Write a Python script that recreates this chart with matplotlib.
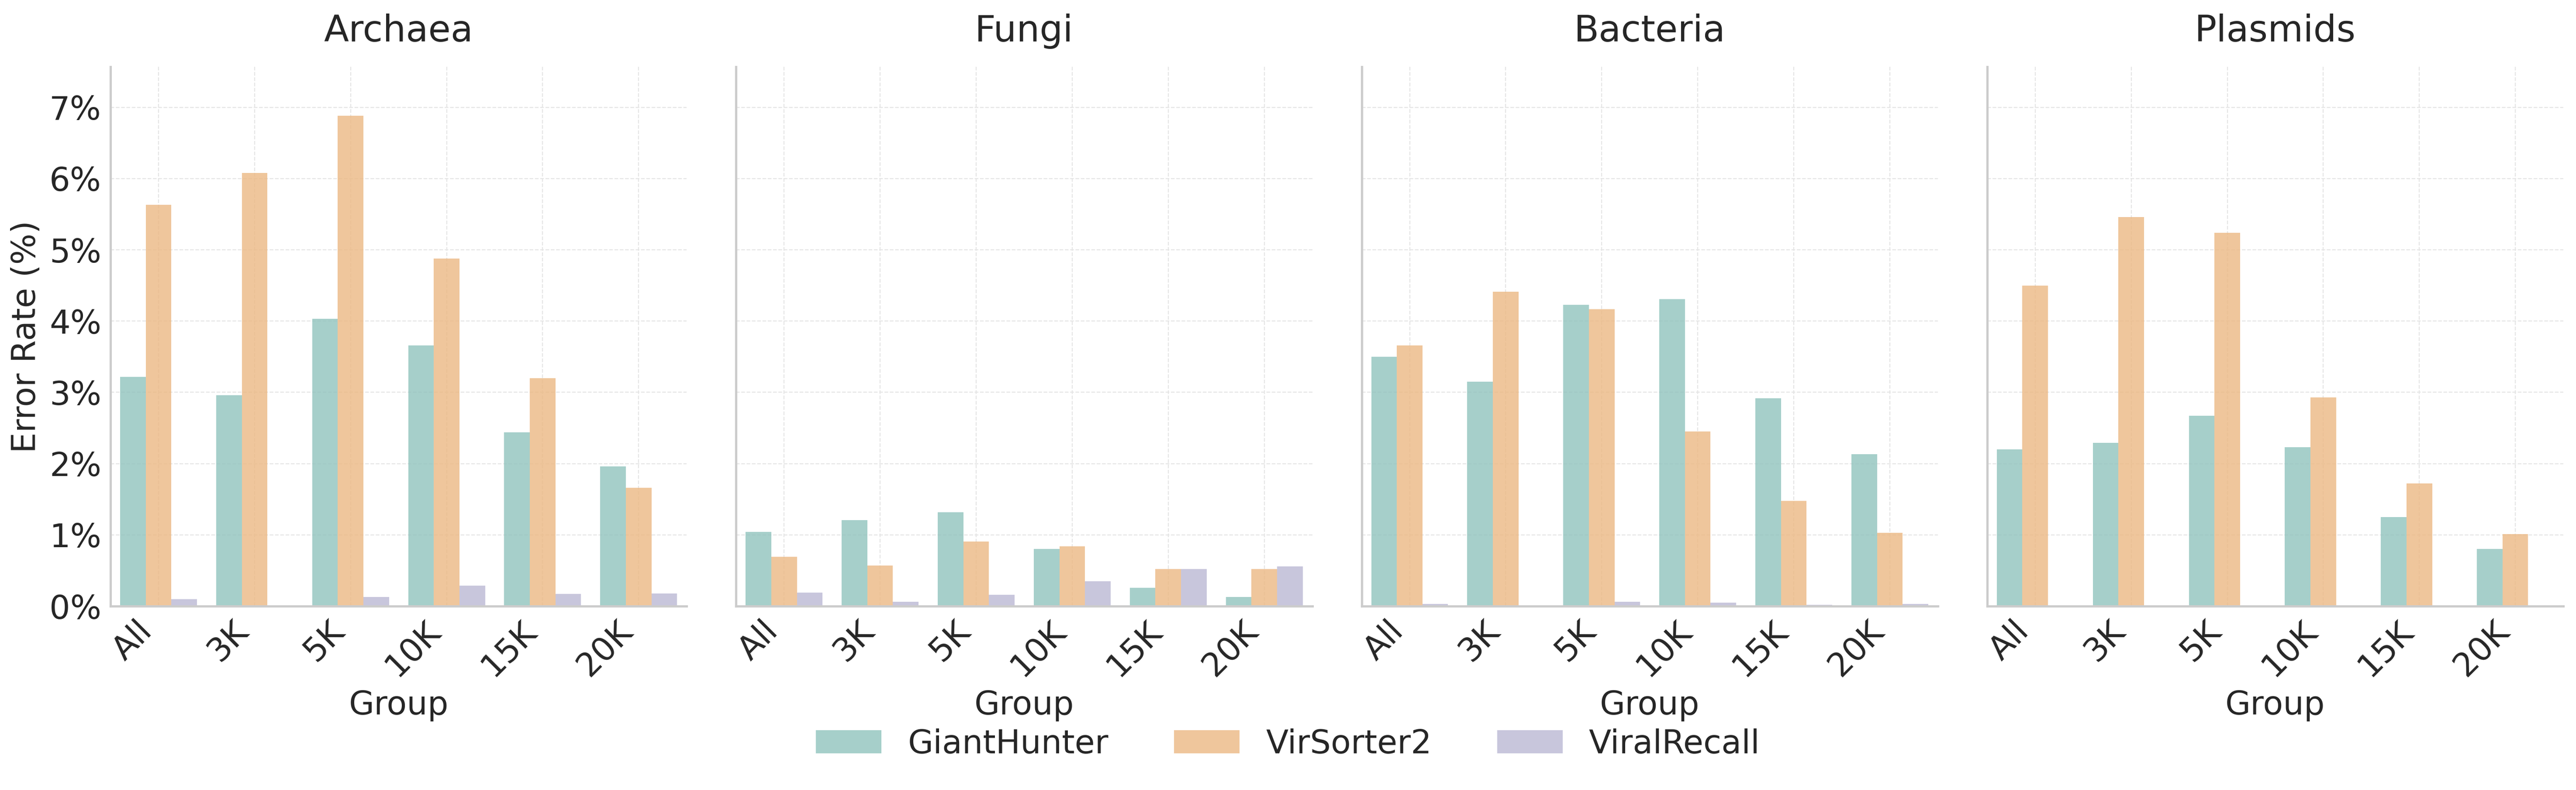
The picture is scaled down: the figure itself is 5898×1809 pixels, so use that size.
import matplotlib
matplotlib.use("Agg")
import matplotlib.pyplot as plt
import numpy as np

groups = ["All", "3K", "5K", "10K", "15K", "20K"]
panels = ["Archaea", "Fungi", "Bacteria", "Plasmids"]
tools = ["GiantHunter", "VirSorter2", "ViralRecall"]

# error rates in %
archaea_gh = [3.22, 2.96, 4.03, 3.66, 2.44, 1.96]
archaea_vs = [5.63, 6.08, 6.88, 4.88, 3.20, 1.66]
archaea_vr = [0.10, 0.00, 0.13, 0.29, 0.17, 0.18]

fungi_gh = [1.04, 1.21, 1.32, 0.80, 0.26, 0.13]
fungi_vs = [0.69, 0.57, 0.91, 0.84, 0.52, 0.52]
fungi_vr = [0.19, 0.06, 0.16, 0.35, 0.52, 0.56]

bacteria_gh = [3.50, 3.15, 4.23, 4.31, 2.92, 2.13]
bacteria_vs = [3.66, 4.41, 4.17, 2.45, 1.48, 1.03]
bacteria_vr = [0.03, 0.01, 0.06, 0.05, 0.02, 0.03]

plasmids_gh = [2.20, 2.29, 2.67, 2.23, 1.25, 0.80]
plasmids_vs = [4.50, 5.46, 5.24, 2.93, 1.72, 1.01]
plasmids_vr = [0.00, 0.00, 0.01, 0.01, 0.00, 0.00]

data = {
    "Archaea": [archaea_gh, archaea_vs, archaea_vr],
    "Fungi": [fungi_gh, fungi_vs, fungi_vr],
    "Bacteria": [bacteria_gh, bacteria_vs, bacteria_vr],
    "Plasmids": [plasmids_gh, plasmids_vs, plasmids_vr],
}

colors = ["#90c3bd", "#ecb883", "#bbb8d4"]
TXT = "#262626"

plt.rcParams["font.family"] = "DejaVu Sans"
plt.rcParams["text.color"] = TXT
plt.rcParams["axes.labelcolor"] = TXT
plt.rcParams["xtick.color"] = TXT
plt.rcParams["ytick.color"] = TXT

fig, axes = plt.subplots(1, 4, figsize=(5898 / 300, 1809 / 300), dpi=300, sharey=True)
fig.subplots_adjust(left=0.0429, right=0.9951, top=0.9154, bottom=0.2327, wspace=0.0857)

ymax = max(max(s) for p in data.values() for s in p) * 1.1
x = np.arange(len(groups))
w = 0.8 / 3

for ax, name in zip(axes, panels):
    ax.set_axisbelow(True)
    ax.grid(True, color="#e5e5e5", linestyle="--", linewidth=0.55)
    for i, (vals, c) in enumerate(zip(data[name], colors)):
        ax.bar(x - 0.4 + w / 2 + i * w, vals, width=w, color=c, alpha=0.8,
               label=tools[i], linewidth=0)
    ax.set_title(name, fontsize=20, pad=14)
    ax.set_xlim(-0.5, 5.5)
    ax.set_ylim(0, ymax)
    ax.set_xticks(x)
    ax.set_xticklabels(groups, rotation=45, ha="right", fontsize=18)
    ax.set_xlabel("Group", fontsize=18)
    ax.tick_params(axis="both", length=0, pad=5, labelsize=18)
    for s in ["top", "right"]:
        ax.spines[s].set_visible(False)
    for s in ["left", "bottom"]:
        ax.spines[s].set_color("#cccccc")
        ax.spines[s].set_linewidth(1.25)

axes[0].set_yticks(range(0, 8))
axes[0].set_yticklabels([f"{v}%" for v in range(0, 8)])
axes[0].set_ylabel("Error Rate (%)", fontsize=18)

handles, labels = axes[0].get_legend_handles_labels()
fig.legend(handles, labels, loc="center", bbox_to_anchor=(0.5, 0.058), ncol=3,
           frameon=False, fontsize=18)

fig.savefig("out.png", dpi=300)
